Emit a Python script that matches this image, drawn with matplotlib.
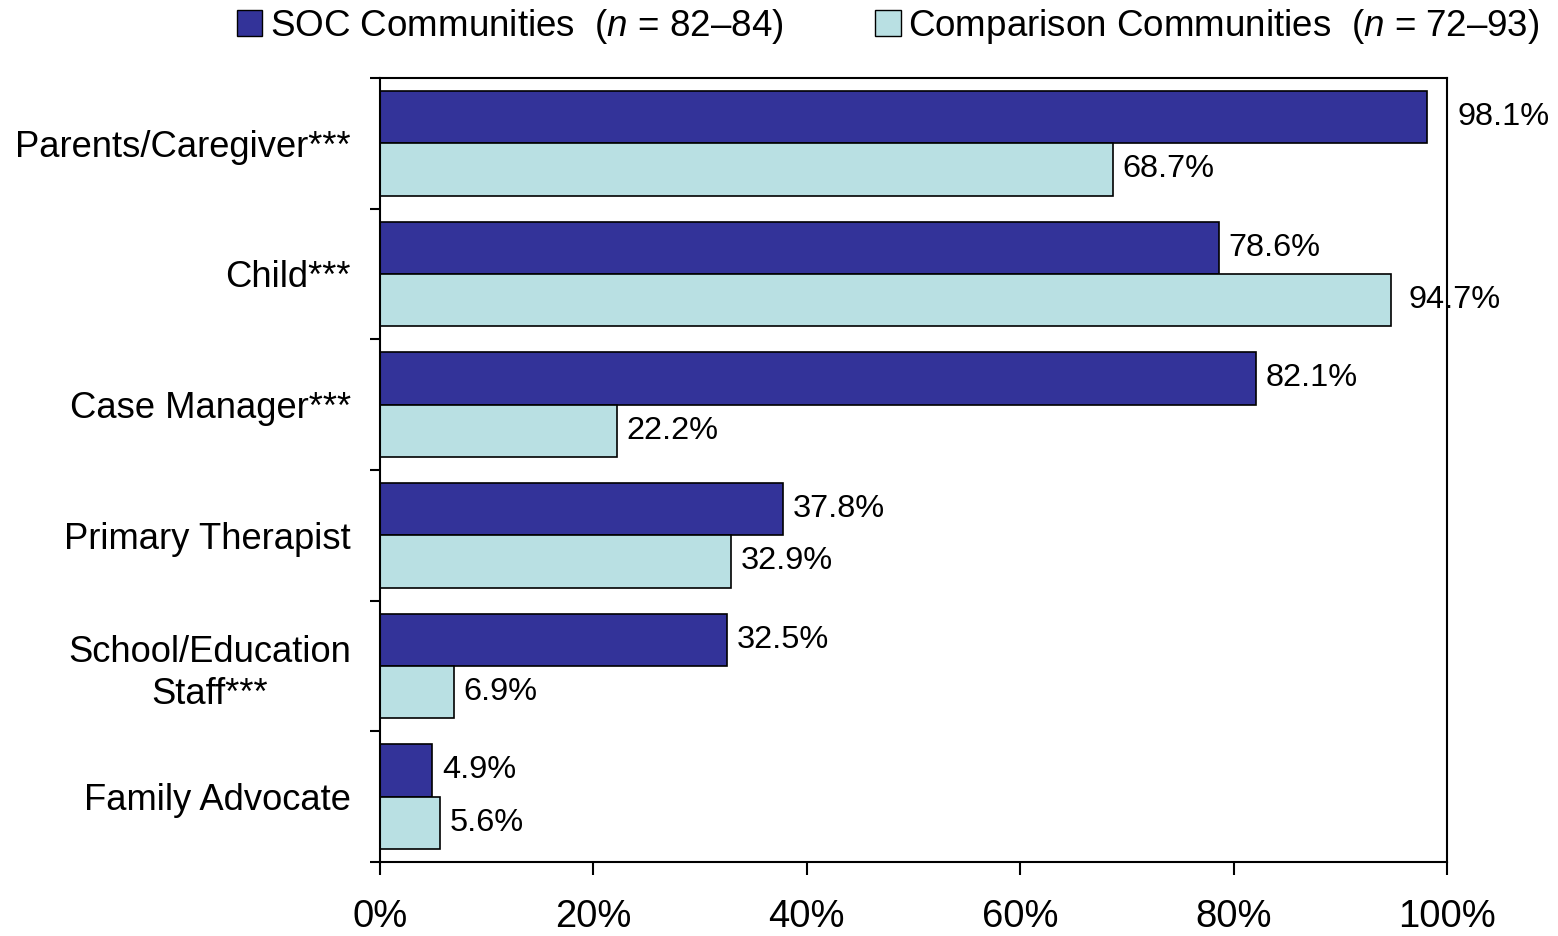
import matplotlib
matplotlib.use('Agg')
import matplotlib.pyplot as plt
from matplotlib.patches import Patch
import numpy as np

# 폰트 설정
plt.rcParams['font.family'] = ['Liberation Sans', 'DejaVu Sans']
plt.rcParams['mathtext.fontset'] = 'custom'
plt.rcParams['mathtext.rm'] = 'Liberation Sans'
plt.rcParams['mathtext.it'] = 'Liberation Sans:italic'

# 데이터
categories = ['Parents/Caregiver***', 'Child***', 'Case Manager***',
              'Primary Therapist', 'School/Education\nStaff***', 'Family Advocate']
soc = [98.1, 78.6, 82.1, 37.8, 32.5, 4.9]
comparison = [68.7, 94.7, 22.2, 32.9, 6.9, 5.6]
x_ticks = [0, 20, 40, 60, 80, 100]

dark = '#333399'
light = '#B9E0E3'

fig = plt.figure(figsize=(15.58, 9.36), dpi=100)
ax = fig.add_axes([0.2439, 0.0791, 0.6849, 0.8376])

y = np.arange(len(categories))
h = 0.4
ax.barh(y - h / 2, soc, height=h, color=dark, edgecolor='black', linewidth=1.2)
ax.barh(y + h / 2, comparison, height=h, color=light, edgecolor='black', linewidth=1.2)

# 값 라벨
for i, v in enumerate(soc):
    off = 22 if v > 97 else 7
    ax.annotate(f'{v}%', (v, i - h / 2), xytext=(off, 0), textcoords='offset points',
                va='center', ha='left', fontsize=23.4)
for i, v in enumerate(comparison):
    off = 13 if v > 90 else 7
    ax.annotate(f'{v}%', (v, i + h / 2), xytext=(off, 0), textcoords='offset points',
                va='center', ha='left', fontsize=23.4)

ax.set_xlim(0, 100)
ax.set_ylim(len(categories) - 0.5, -0.5)
ax.set_xticks(x_ticks)
ax.set_xticklabels([f'{t}%' for t in x_ticks], fontsize=27.5)
ax.tick_params(axis='x', direction='out', length=9, width=1.5, pad=18)

ax.set_yticks(y)
ax.set_yticklabels(categories, fontsize=26.2, ha='right', multialignment='center',
                   linespacing=1.25)
ax.tick_params(axis='y', which='major', length=0, pad=21)
ax.set_yticks(np.arange(-0.5, len(categories)), minor=True)
ax.tick_params(axis='y', which='minor', direction='out', length=7, width=1.5)

for s in ax.spines.values():
    s.set_linewidth(1.5)
    s.set_clip_on(False)

# 범례
handles = [Patch(facecolor=dark, edgecolor='black', linewidth=1),
           Patch(facecolor=light, edgecolor='black', linewidth=1)]
labels = ['SOC Communities  ($\\it{n}$ = 82\u201384)',
          'Comparison Communities  ($\\it{n}$ = 72\u201393)']
fig.legend(handles, labels, loc='center', bbox_to_anchor=(0.570, 0.972), ncol=2,
           frameon=False, fontsize=26.5, handlelength=0.7, handleheight=0.7,
           handletextpad=0.2, columnspacing=2.5)

fig.savefig('out.png', dpi=100)
